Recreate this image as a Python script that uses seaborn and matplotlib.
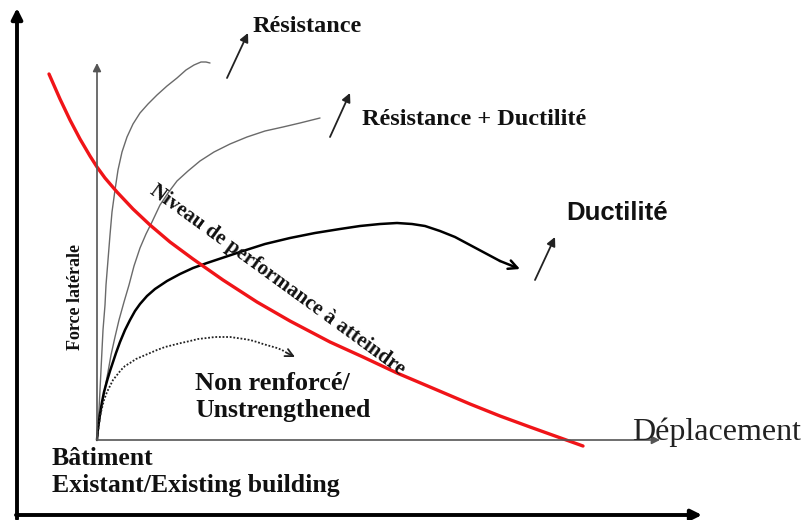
import matplotlib
matplotlib.use("Agg")
import matplotlib.pyplot as plt
import seaborn as sns

# ---- data (displacement d, lateral force f) ----
red_d = [-48, -37, -27, -17, -7, 0, 8, 20, 36, 53, 73, 96, 126, 160, 193, 233, 266, 300, 333, 373, 403, 433, 486]
red_f = [366, 341, 320, 301, 284, 273, 262, 248, 231, 215, 198, 181, 160, 138, 119, 98, 83, 67, 53, 36, 24, 13, -6]

res_d = [0, 1, 2, 3, 4, 5, 6, 8, 9, 11, 13, 15, 18, 21, 25, 30, 36, 43, 51, 60, 70, 80, 89, 97, 104, 109, 113]
res_f = [0, 15, 30, 50, 70, 90, 110, 135, 155, 180, 205, 228, 250, 270, 288, 303, 316, 327, 336, 345, 354, 362, 370, 375, 378, 378, 377]

rd_d = [0, 2, 5, 8, 11, 14, 18, 22, 27, 32, 37, 43, 49, 55, 63, 71, 80, 91, 103, 117, 133, 150, 168, 186, 203, 223]
rd_f = [0, 15, 35, 52, 68, 85, 103, 120, 138, 155, 174, 192, 206, 218, 235, 247, 259, 269, 279, 288, 296, 303, 309, 313, 317, 322]

duc_d = [0, 1, 3, 5, 7, 10, 13, 16, 19, 23, 28, 33, 38, 43, 50, 58, 70, 83, 96, 110, 128, 146, 168, 193,
         218, 243, 263, 283, 300, 315, 328, 343, 358, 373, 388, 403, 423]
duc_f = [0, 12, 26, 38, 48, 59, 69, 78, 87, 98, 110, 120, 129, 136, 144, 151, 159, 166, 172, 177, 183, 189, 196, 202,
         207, 211, 214, 216, 217, 216, 214, 209, 203, 195, 187, 179, 171]

non_d = [0, 1, 2, 3, 5, 7, 10, 13, 16, 20, 24, 28, 33, 39, 46, 53, 60, 68, 76, 84, 93, 101, 110, 118, 126, 133,
         140, 147, 153, 160, 166, 173, 180, 185, 190, 198]
non_f = [0, 8, 15, 24, 32, 40, 48, 54, 60, 65, 70, 74, 77, 81, 84, 87, 90, 93, 95, 97, 99, 101, 102, 103, 103, 103,
         102, 101, 100, 98, 96, 94, 92, 90, 87, 83]

# short trend arrows (tail, head)
arrow_res = [(130, 362), (151, 407)]
arrow_rd = [(233, 303), (253, 347)]
arrow_duc = [(438, 160), (458, 203)]

# axes (inner and outer)
inner_x_end = 563
inner_y_end = 377
outer_origin = (-80, -75)
outer_x_end = 605
outer_y_end = 432

sns.set_style("white")
plt.rcParams["font.family"] = ["Liberation Serif", "DejaVu Serif"]

fig = plt.figure(figsize=(8.01, 5.20), dpi=100)
ax = fig.add_axes([0, 0, 1, 1])
ax.set_xlim(-97, 704)
ax.set_ylim(-80, 440)
ax.axis("off")


def arrow(p0, p1, color, lw, scale, style="-|>"):
    ax.annotate("", xy=p1, xytext=p0,
                arrowprops=dict(arrowstyle=style, color=color, lw=lw,
                                shrinkA=0, shrinkB=0, mutation_scale=scale))


# outer axes
arrow((outer_origin[0], outer_origin[1] - 4), (outer_origin[0], outer_y_end), "black", 2.8, 16)
arrow((outer_origin[0] - 1, outer_origin[1]), (outer_x_end, outer_origin[1]), "black", 2.8, 16)
# inner axes
arrow((0, 0), (0, inner_y_end), "#555555", 1.2, 12)
arrow((0, 0), (inner_x_end, 0), "#555555", 1.2, 12)

# curves
sns.lineplot(x=res_d, y=res_f, sort=False, estimator=None, color="#6a6a6a", linewidth=1.0, ax=ax)
sns.lineplot(x=rd_d, y=rd_f, sort=False, estimator=None, color="#6a6a6a", linewidth=1.0, ax=ax)
sns.lineplot(x=duc_d[:-1], y=duc_f[:-1], sort=False, estimator=None, color="black", linewidth=1.8, ax=ax)
arrow((duc_d[-2], duc_f[-2]), (duc_d[-1], duc_f[-1]), "black", 1.8, 16, "->")
sns.lineplot(x=non_d[:-1], y=non_f[:-1], sort=False, estimator=None, color="#222222",
             linewidth=1.3, linestyle=(0, (1, 1)), ax=ax)
arrow((non_d[-2], non_f[-2]), (non_d[-1], non_f[-1]), "#222222", 1.3, 14, "->")
sns.lineplot(x=red_d, y=red_f, sort=False, estimator=None, color="#f01418", linewidth=2.4, ax=ax)

# trend arrows
arrow(*arrow_res, "#222222", 1.3, 13)
arrow(*arrow_rd, "#222222", 1.3, 13)
arrow(*arrow_duc, "#222222", 1.3, 13)

# texts
tc = "#111111"
ax.text(156, 408, "Résistance", fontsize=17.5, fontweight="bold", color=tc, ha="left", va="baseline")
ax.text(265, 315, "Résistance + Ductilité", fontsize=17.5, fontweight="bold", color=tc, ha="left", va="baseline")
ax.text(469, 220, "Ductilité", fontsize=18.5, fontweight="bold", color=tc, ha="left", va="baseline",
        family=["Liberation Sans", "DejaVu Sans"])
ax.text(98, 50, "Non renforcé/", fontsize=19, fontweight="bold", color=tc, ha="left", va="baseline")
ax.text(98, 23, "Unstrengthened", fontsize=18.5, fontweight="bold", color=tc, ha="left", va="baseline")
ax.text(-45, -25, "Bâtiment", fontsize=18.5, fontweight="bold", color=tc, ha="left", va="baseline")
ax.text(-45, -52, "Existant/Existing building", fontsize=18.5, fontweight="bold", color=tc, ha="left", va="baseline")
ax.text(535, 0, "Déplacement", fontsize=23, color="#222222", ha="left", va="baseline")
ax.text(-22, 143, "Force latérale", fontsize=13, fontweight="bold", color=tc, rotation=90,
        ha="center", va="center")
ax.text(180, 160, "Niveau de performance à atteindre", fontsize=15, fontweight="bold", color=tc,
        rotation=-36, rotation_mode="anchor", ha="center", va="center")

fig.savefig("out.png", dpi=100)
